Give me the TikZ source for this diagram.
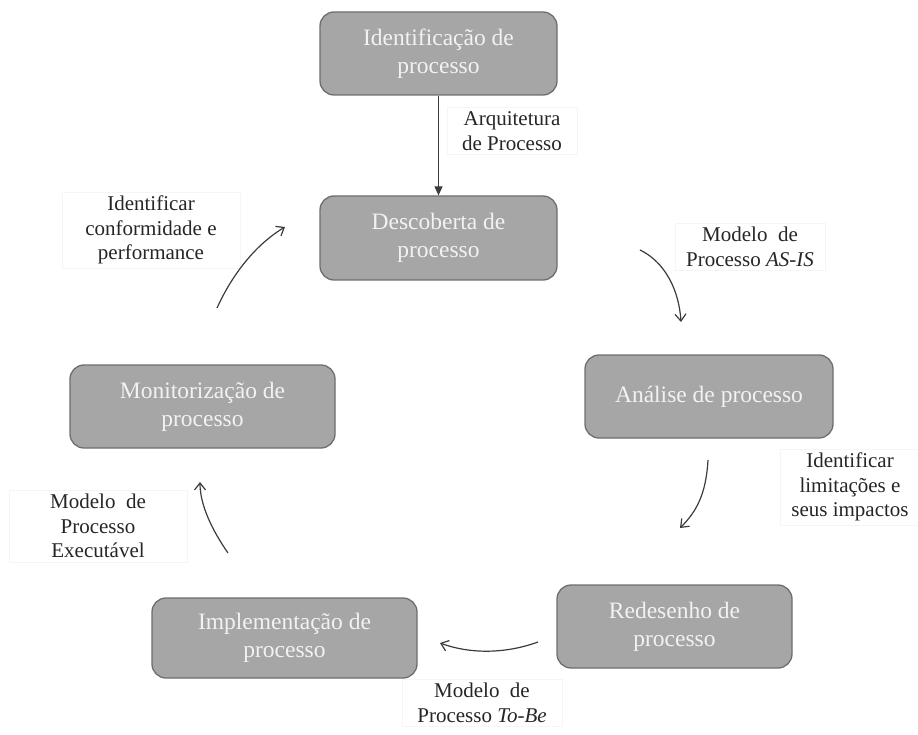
\documentclass[tikz,border=0pt]{standalone}
\usepackage{fontspec}
\setmainfont{Liberation Serif}
\usetikzlibrary{arrows.meta}

\definecolor{boxfill}{HTML}{A6A6A6}
\definecolor{boxline}{HTML}{6E6E6E}
\definecolor{boxtext}{HTML}{F2F2F2}
\definecolor{flowline}{HTML}{3C3C3C}

\tikzset{
  proc/.style={rectangle, rounded corners=14pt, draw=boxline, line width=1.3pt,
    fill=boxfill, text=boxtext, align=center, inner sep=0pt,
    font=\fontsize{23.5}{28}\selectfont},
  lbl/.style={rectangle, fill=white, draw=black!4, line width=0.5pt, align=center,
    text=black!85, inner xsep=8pt, inner ysep=4pt,
    font=\fontsize{21}{24.5}\selectfont},
  flow/.style={draw=flowline, line width=1.2pt, -{Straight Barb[length=7pt,width=11pt,line width=1.2pt]}},
  straightflow/.style={draw=flowline, line width=1.1pt, -{Triangle[length=9pt,width=8pt]}}
}

\begin{document}
\begin{tikzpicture}[x=1pt, y=-1pt]
  \useasboundingbox (0,0) rectangle (918,735);

  % process stages
  \node[proc, minimum width=237pt, minimum height=83pt] (ident) at (438.5,53.5)
    {Identificação de\\processo};
  \node[proc, minimum width=237pt, minimum height=84pt] (desc) at (438.5,238)
    {Descoberta de\\processo};
  \node[proc, minimum width=248pt, minimum height=83pt] (anal) at (709,396.5)
    {Análise de processo};
  \node[proc, minimum width=235pt, minimum height=83pt] (red) at (674.5,626.5)
    {Redesenho de\\processo};
  \node[proc, minimum width=265pt, minimum height=80pt] (impl) at (284.5,638)
    {Implementação de\\processo};
  \node[proc, minimum width=265pt, minimum height=83pt] (mon) at (202.5,406.5)
    {Monitorização de\\processo};

  % labels of the transitions
  \node[lbl, minimum width=130pt] (larq) at (512,131) {Arquitetura\\de Processo};
  \node[lbl, minimum width=150pt] (lasis) at (750,247) {Modelo\ \ de\\Processo \textit{AS-IS}};
  \node[lbl, minimum width=140pt] (llim) at (850,487) {Identificar\\limitações e\\seus impactos};
  \node[lbl, minimum width=160pt] (ltobe) at (482,703) {Modelo\ \ de\\Processo \textit{To-Be}};
  \node[lbl, minimum width=178pt] (lexec) at (98,526) {Modelo\ \ de\\Processo\\Executável};
  \node[lbl, minimum width=178pt] (lconf) at (151,230) {Identificar\\conformidade e\\performance};

  % free ends of the curved transitions
  \coordinate (asisS) at (640,250);
  \coordinate (asisE) at (681,322);
  \coordinate (limS) at (708,460);
  \coordinate (limE) at (680,528);
  \coordinate (tobeS) at (538,642);
  \coordinate (tobeE) at (440,643);
  \coordinate (execS) at (228,553);
  \coordinate (execE) at (200,482);
  \coordinate (confS) at (217,308);
  \coordinate (confE) at (285,227);

  % transitions
  \draw[straightflow] (ident.south) -- (desc.north);
  \draw[flow] (asisS) .. controls (665,262) and (679,290) .. (asisE);
  \draw[flow] (limS) .. controls (706,495) and (696,512) .. (limE);
  \draw[flow] (tobeS) .. controls (505,654) and (470,654) .. (tobeE);
  \draw[flow] (execS) .. controls (212,530) and (200,505) .. (execE);
  \draw[flow] (confS) .. controls (232,275) and (255,245) .. (confE);
\end{tikzpicture}
\end{document}
